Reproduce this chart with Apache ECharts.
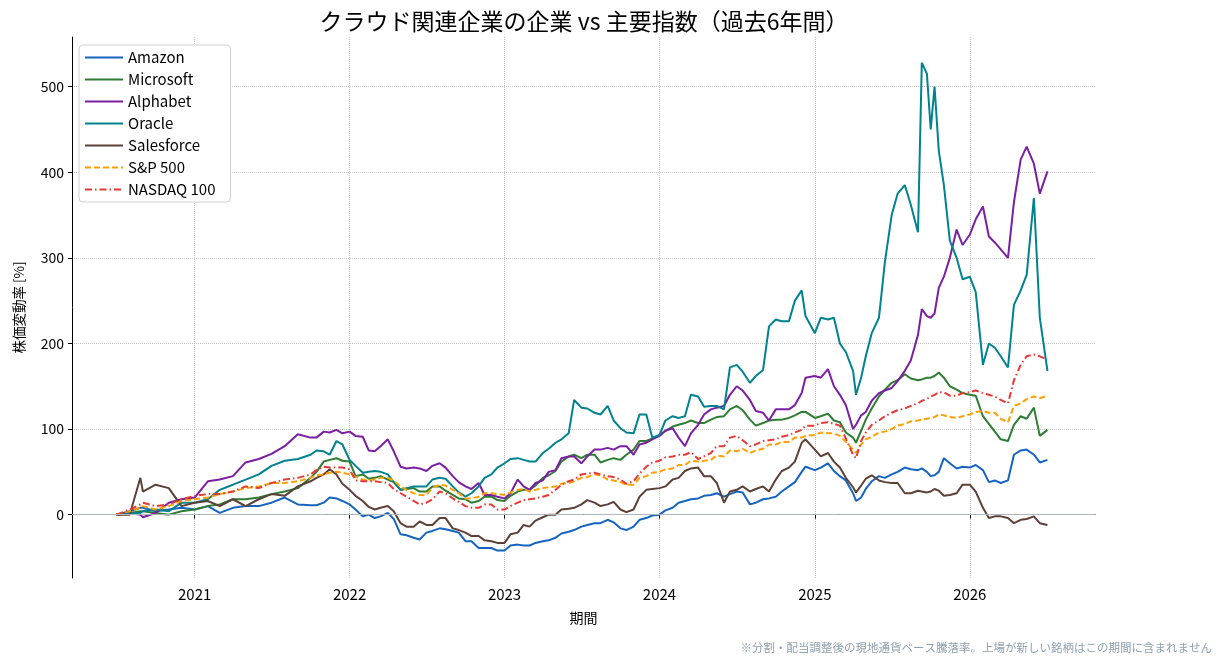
<!DOCTYPE html>
<html>
<head>
<meta charset="utf-8">
<script src="https://cdn.jsdelivr.net/npm/echarts@6/dist/echarts.min.js"></script>
<style>
  html, body { margin: 0; padding: 0; background: #fff; }
  #chart { width: 1224px; height: 666px; }
</style>
</head>
<body>
<div id="chart"></div>
<script>
// 日付（月初・月半ば＋急変動のあった日）
const dates = [
  '2020-07-01','2020-08-01','2020-08-26','2020-09-01','2020-10-01','2020-11-01','2020-12-01',
  '2021-01-01','2021-02-01','2021-03-01','2021-04-01','2021-05-01','2021-06-01','2021-07-01','2021-08-01','2021-09-01',
  '2021-10-01','2021-10-15','2021-11-01','2021-11-15','2021-12-01','2021-12-15',
  '2022-01-01','2022-01-15','2022-02-01','2022-02-15','2022-03-01','2022-03-15','2022-04-01','2022-04-15',
  '2022-05-01','2022-05-15','2022-06-01','2022-06-15','2022-07-01','2022-07-15','2022-08-01','2022-08-15',
  '2022-09-01','2022-09-15','2022-10-01','2022-10-15','2022-11-01','2022-11-15','2022-12-01','2022-12-15',
  '2023-01-01','2023-01-15','2023-02-01','2023-02-15','2023-03-01','2023-03-15','2023-04-01','2023-04-15','2023-05-01','2023-05-15',
  '2023-06-01','2023-06-14',
  '2023-07-01','2023-07-15','2023-08-01','2023-08-15','2023-09-01','2023-09-15','2023-10-01','2023-10-15','2023-11-01','2023-11-15','2023-12-01','2023-12-15',
  '2024-01-01','2024-01-15','2024-02-01','2024-02-15','2024-03-01','2024-03-15','2024-04-01','2024-04-15',
  '2024-05-01','2024-05-15','2024-06-01','2024-06-15','2024-07-01','2024-07-15','2024-08-01','2024-08-15',
  '2024-09-01','2024-09-15','2024-10-01','2024-10-15','2024-11-01','2024-11-15','2024-12-01','2024-12-10',
  '2025-01-01','2025-01-15','2025-02-01','2025-02-15','2025-03-01','2025-03-15','2025-04-01','2025-04-08','2025-04-20',
  '2025-05-01','2025-05-15','2025-06-01','2025-06-15','2025-07-01','2025-07-15','2025-08-01','2025-08-15',
  '2025-09-01','2025-09-10','2025-09-22','2025-10-01','2025-10-10','2025-10-20','2025-11-01','2025-11-15','2025-12-01','2025-12-15',
  '2026-01-01','2026-01-15','2026-02-01','2026-02-15','2026-03-01','2026-03-15','2026-04-01','2026-04-15','2026-05-01','2026-05-15','2026-06-01','2026-06-15','2026-07-03'
];

// 株価変動率 [%]
const amazon = [
  0, 4, 8, 8, 4, 6, 8,
  6, 10, 2, 8, 10, 10, 14, 20, 12,
  11, 11, 14, 20, 19, 16,
  12, 6, -2, 0, -4, -2, 2, -5, -23, -24, -27, -29, -21, -19, -16, -17, -19, -21, -31, -31, -39, -39, -39, -42,
  -42, -36, -35, -36, -36, -33, -31, -30, -27, -22,
  -20, -18,
  -14, -12, -10, -10, -6, -9, -16, -18, -14, -6, -4, -1,
  0, 5, 8, 14, 16, 18, 19, 22, 23, 25, 21, 24, 27, 26, 12, 14, 18, 19, 21, 27, 33, 38, 50, 56,
  52, 55, 60, 51, 45, 40, 25, 16, 20, 30, 39, 45, 43, 47, 50, 55, 53, 52, 54, 50, 45, 46, 50, 66, 60, 54, 56,
  55, 58, 52, 38, 40, 37, 40, 70, 75, 76, 70, 61, 64
];
const microsoft = [
  0, 2, 4, 4, 2, 0, 4,
  6, 10, 12, 18, 18, 20, 24, 27, 31,
  43, 50, 62, 64, 66, 63,
  62, 45, 47, 42, 43, 45, 41, 38, 29, 30, 31, 27, 27, 33, 33, 28, 23, 19, 18, 14, 16, 21, 21, 17,
  16, 22, 27, 29, 29, 34, 43, 46, 51, 62,
  68, 70,
  66, 70, 70, 61, 64, 66, 64, 70, 76, 86, 86, 89,
  93, 98, 103, 105, 107, 110, 107, 107, 111, 114, 115, 123, 127, 122, 111, 104, 107, 110, 111, 111, 113, 116, 120, 120,
  113, 115, 118, 110, 108, 96, 90, 84, 98, 111, 124, 138, 146, 154, 157, 164, 159, 157, 158, 160, 160, 162, 166, 160, 150, 146, 142,
  140, 139, 115, 106, 97, 88, 86, 105, 115, 112, 125, 92, 99
];
const alphabet = [
  0, 2, 0, -3, 2, 14, 18,
  20, 39, 41, 45, 61, 65, 71, 80, 94,
  90, 90, 97, 96, 99, 95,
  97, 92, 91, 75, 74, 80, 88, 74, 56, 54, 55, 54, 51, 57, 60, 55, 45, 38, 33, 30, 37, 23, 23, 21,
  19, 25, 41, 33, 29, 37, 40, 50, 52, 66,
  68, 68,
  60, 68, 76, 76, 78, 76, 80, 80, 70, 82, 84, 88,
  92, 98, 101, 90, 80, 95, 105, 117, 123, 125, 127, 140, 150, 145, 134, 121, 119, 110, 123, 123, 123, 128, 142, 160,
  162, 160, 170, 150, 140, 128, 100, 105, 116, 120, 133, 142, 145, 148, 156, 168, 180, 210, 240, 232, 230, 235, 265, 278, 300, 333, 315,
  327, 345, 360, 325, 318, 310, 300, 365, 415, 430, 410, 375, 401
];
const oracle = [
  0, 2, 2, 4, 6, 4, 14,
  14, 18, 29, 35, 41, 47, 57, 63, 65,
  70, 75, 74, 70, 86, 82,
  64, 57, 49, 50, 51, 50, 47, 38, 29, 31, 33, 33, 33, 41, 43, 42, 33, 26, 21, 25, 33, 43, 47, 55,
  60, 65, 66, 64, 62, 62, 72, 77, 84, 88,
  95, 134,
  125, 124, 119, 117, 127, 110, 101, 96, 95, 117, 117, 90,
  93, 110, 115, 113, 115, 140, 138, 126, 127, 127, 123, 172, 175, 167, 154, 162, 169, 220, 228, 226, 226, 250, 262, 232,
  212, 230, 228, 230, 200, 190, 168, 140, 160, 185, 212, 230, 295, 350, 375, 385, 362, 330, 528, 515, 450, 500, 425, 385, 320, 300, 275,
  278, 260, 175, 200, 195, 185, 172, 245, 262, 280, 370, 230, 168
];
const salesforce = [
  0, 0, 43, 27, 35, 31, 10,
  14, 16, 10, 18, 10, 18, 24, 22, 33,
  39, 43, 47, 53, 47, 36,
  29, 22, 16, 9, 6, 8, 10, 4, -10, -14, -14, -8, -12, -12, -4, -4, -16, -18, -21, -25, -25, -30, -31, -33,
  -33, -23, -21, -12, -14, -7, -3, 0, 0, 6,
  7, 8,
  12, 17, 14, 10, 12, 15, 6, 3, 6, 21, 29, 30,
  31, 33, 41, 43, 51, 54, 55, 45, 45, 37, 14, 27, 29, 33, 27, 30, 33, 27, 41, 51, 55, 62, 84, 88,
  76, 68, 72, 62, 55, 43, 32, 26, 34, 42, 46, 40, 38, 37, 37, 25, 25, 28, 27, 26, 27, 30, 28, 22, 23, 25, 35,
  35, 27, 8, -4, -2, -2, -4, -10, -6, -5, -2, -10, -12
];
const sp500 = [
  0, 4, 8, 10, 6, 10, 16,
  18, 20, 24, 27, 31, 33, 37, 37, 39,
  43, 46, 47, 49, 50, 49,
  47, 44, 41, 40, 41, 43, 43, 40, 33, 29, 25, 23, 23, 31, 35, 34, 29, 25, 19, 19, 21, 25, 25, 24,
  23, 26, 29, 30, 27, 29, 31, 32, 33, 36,
  37, 39,
  43, 44, 47, 46, 41, 40, 38, 35, 35, 43, 45, 49,
  50, 53, 54, 58, 58, 63, 62, 63, 64, 69, 68, 75, 74, 77, 72, 75, 77, 82, 82, 85, 85, 90, 90, 92,
  93, 96, 95, 95, 92, 85, 76, 72, 82, 88, 91, 96, 97, 100, 104, 106, 109, 110, 111, 112, 113, 114, 117, 116, 114, 113, 115,
  117, 120, 121, 119, 119, 112, 108, 127, 130, 135, 138, 136, 139
];
const nasdaq100 = [
  0, 6, 12, 14, 10, 12, 18,
  22, 24, 24, 27, 33, 31, 37, 41, 43,
  47, 52, 56, 55, 55, 55,
  53, 40, 39, 39, 39, 38, 37, 30, 25, 21, 16, 12, 14, 18, 27, 25, 19, 15, 10, 8, 8, 12, 12, 6,
  6, 10, 14, 17, 18, 19, 21, 23, 29, 35,
  39, 41,
  47, 48, 49, 47, 45, 44, 41, 36, 39, 48, 56, 61,
  63, 67, 68, 70, 70, 73, 65, 68, 72, 80, 80, 90, 92, 87, 80, 82, 86, 87, 88, 91, 93, 96, 99, 104,
  104, 107, 108, 106, 104, 89, 70, 66, 86, 96, 105, 110, 115, 119, 122, 124, 127, 130, 133, 135, 138, 140, 143, 143, 139, 139, 142,
  143, 145, 142, 140, 138, 134, 130, 157, 175, 185, 187, 185, 181
];

const names = ['Amazon', 'Microsoft', 'Alphabet', 'Oracle', 'Salesforce', 'S&P 500', 'NASDAQ 100'];
const seriesValues = [amazon, microsoft, alphabet, oracle, salesforce, sp500, nasdaq100];
const colors = ['#1565c0', '#2e7d32', '#7b1fa2', '#00838f', '#5d4037', '#ffa000', '#e53935'];
const dashTypes = ['solid', 'solid', 'solid', 'solid', 'solid', [6, 3], [7, 3, 1.5, 3]];

const yearTicks = [2021, 2022, 2023, 2024, 2025, 2026];
const yTicks = [0, 100, 200, 300, 400, 500];

const FONT = '"Noto Sans CJK JP", "Noto Sans", sans-serif';
const toTime = function (d) { return Date.parse(d); };
const yearTickTimes = yearTicks.map(function (y) { return Date.UTC(y, 0, 1); });

const chart = echarts.init(document.getElementById('chart'));

const series = names.map(function (name, k) {
  const s = {
    name: name,
    type: 'line',
    symbol: 'none',
    showSymbol: false,
    data: dates.map(function (d, j) { return [toTime(d), seriesValues[k][j]]; }),
    lineStyle: { color: colors[k], width: 2, type: dashTypes[k] },
    itemStyle: { color: colors[k] },
    emphasis: { disabled: true }
  };
  if (k === 0) {
    // 0% の基準線
    s.markLine = {
      silent: true,
      symbol: 'none',
      label: { show: false },
      lineStyle: { color: '#b0b6bd', width: 1, type: 'solid' },
      data: [{ yAxis: 0 }]
    };
  }
  return s;
});

chart.setOption({
  animation: false,
  textStyle: { fontFamily: FONT },
  title: {
    text: 'クラウド関連企業の企業 vs 主要指数（過去6年間）',
    left: 579,
    top: 5,
    textAlign: 'center',
    textStyle: { fontSize: 23, fontWeight: 'normal', color: '#000', fontFamily: FONT }
  },
  legend: {
    orient: 'vertical',
    left: 79,
    top: 45,
    backgroundColor: '#fff',
    borderColor: '#d0d0d0',
    borderWidth: 1,
    borderRadius: 4,
    padding: [5, 15, 5, 5],
    itemGap: 7,
    itemWidth: 38,
    itemHeight: 14,
    itemStyle: { opacity: 0 },
    textStyle: { fontSize: 15, color: '#000', fontFamily: FONT },
    data: names
  },
  grid: { left: 72, right: 129, top: 37, bottom: 88, containLabel: false },
  xAxis: {
    type: 'value',
    min: Date.UTC(2020, 2, 18),
    max: Date.UTC(2026, 9, 23),
    name: '期間',
    nameLocation: 'middle',
    nameGap: 33,
    nameTextStyle: { fontSize: 14, color: '#000', fontFamily: FONT },
    axisLine: { show: true, lineStyle: { color: '#000', width: 1 } },
    axisTick: { show: true, inside: false, length: 4, customValues: yearTickTimes, lineStyle: { color: '#000' } },
    axisLabel: {
      customValues: yearTickTimes,
      formatter: function (v) { return String(new Date(v).getUTCFullYear()); },
      fontSize: 15, color: '#000', margin: 9, fontFamily: FONT
    },
    splitLine: { show: true, lineStyle: { type: 'dotted', color: '#c8c8c8', width: 1 } }
  },
  yAxis: {
    type: 'value',
    min: -74,
    max: 558,
    name: '株価変動率 [%]',
    nameLocation: 'middle',
    nameRotate: 90,
    nameGap: 46,
    nameTextStyle: { fontSize: 13.5, color: '#000', fontFamily: FONT },
    axisLine: { show: true, lineStyle: { color: '#000', width: 1 } },
    axisTick: { show: true, inside: false, length: 4, customValues: yTicks, lineStyle: { color: '#000' } },
    axisLabel: { customValues: yTicks, fontSize: 14, color: '#000', margin: 8, fontFamily: FONT },
    splitLine: { show: true, lineStyle: { type: 'dotted', color: '#c8c8c8', width: 1 } }
  },
  graphic: [{
    type: 'text',
    right: 12,
    top: 642,
    style: {
      text: '※分割・配当調整後の現地通貨ベース騰落率。上場が新しい銘柄はこの期間に含まれません',
      fill: '#8fa0b0',
      font: '11.5px ' + FONT
    }
  }],
  series: series
});
</script>
</body>
</html>
